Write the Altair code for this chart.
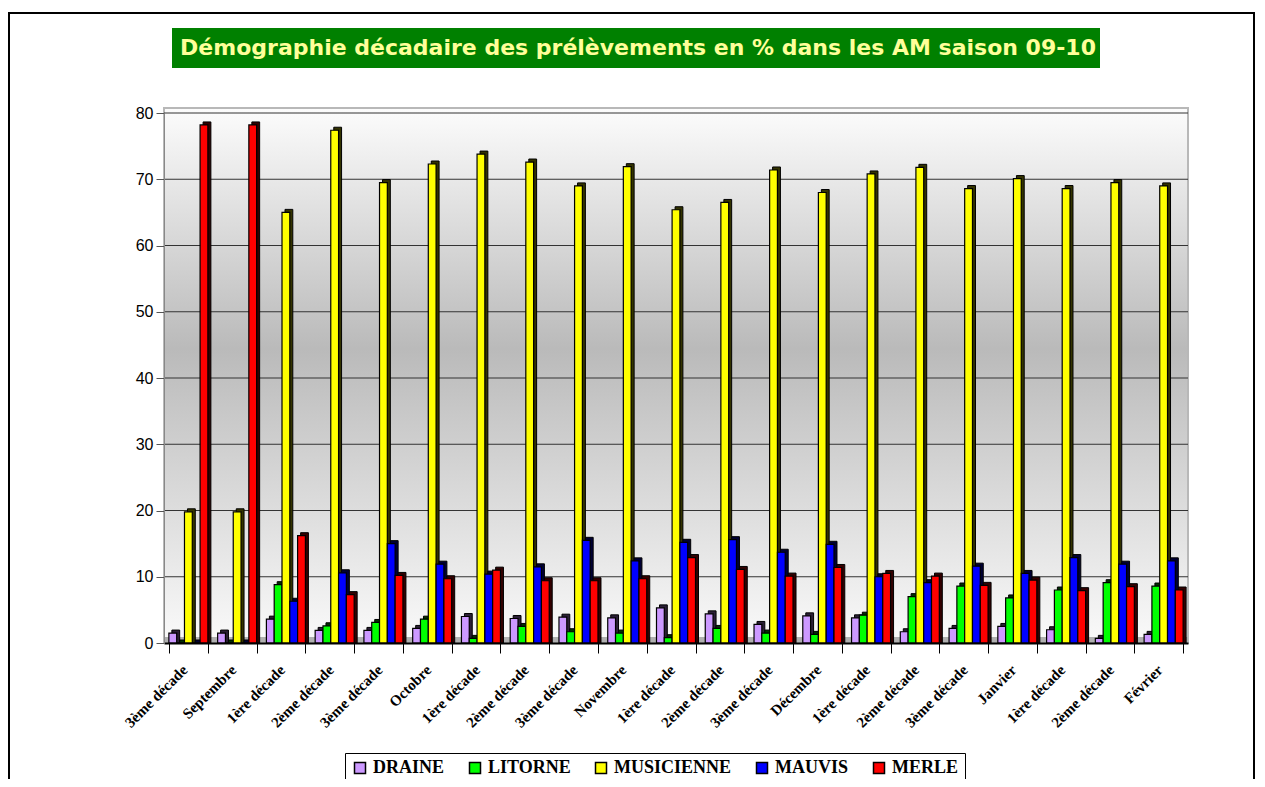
import altair as alt
import pandas as pd

periods = ["3ème décade", "Septembre", "1ère décade", "2ème décade", "3ème décade", "Octobre",
           "1ère décade", "2ème décade", "3ème décade", "Novembre", "1ère décade", "2ème décade",
           "3ème décade", "Décembre", "1ère décade", "2ème décade", "3ème décade", "Janvier",
           "1ère décade", "2ème décade", "Février"]
species = ["DRAINE", "LITORNE", "MUSICIENNE", "MAUVIS", "MERLE"]
colors = ["#cc99ff", "#00ff00", "#ffff00", "#0000ff", "#ff0000"]
shades = ["#2b1f36", "#003300", "#333300", "#000033", "#330000"]

draine = [1.5, 1.5, 3.6, 1.9, 1.9, 2.2, 4.0, 3.7, 3.9, 3.8, 5.3, 4.4, 2.8, 4.1, 3.8, 1.7, 2.2, 2.5, 2.0, 0.7, 1.3]
litorne = [0, 0, 8.8, 2.6, 3.1, 3.6, 0.7, 2.5, 1.7, 1.5, 0.8, 2.2, 1.5, 1.3, 4.2, 7.0, 8.6, 6.8, 8.0, 9.1, 8.6]
musicienne = [19.8, 19.8, 65.0, 77.4, 69.5, 72.3, 73.8, 72.6, 69.0, 71.9, 65.4, 66.5, 71.4, 68.0, 70.8, 71.8, 68.6, 70.1, 68.6, 69.5, 69.0]
mauvis = [0, 0, 6.3, 10.6, 15.0, 11.9, 10.4, 11.5, 15.5, 12.4, 15.2, 15.6, 13.7, 14.9, 10.0, 9.1, 11.6, 10.5, 12.9, 11.9, 12.4]
merle = [78.2, 78.2, 16.2, 7.3, 10.2, 9.7, 11.0, 9.4, 9.4, 9.7, 12.9, 11.1, 10.1, 11.4, 10.5, 10.1, 8.7, 9.5, 7.9, 8.5, 8.0]
yticks = [0, 10, 20, 30, 40, 50, 60, 70, 80]
title_text = "Démographie décadaire des prélèvements en % dans les AM saison 09-10"

series = [draine, litorne, musicienne, mauvis, merle]
rows = []
for i in range(len(periods)):
    for j, s in enumerate(species):
        rows.append({"idx": i, "species": s, "species2": s, "value": series[j][i], "shade": shades[j]})
df = pd.DataFrame(rows)

W, H = 1024, 530
PI, PO = 0.2, 0.1
step = W / (len(periods) - PI + 2 * PO)
bw = step * (1 - PI)
D = 3  # depth of the 3D side

label_expr = "[" + ",".join("'" + p + "'" for p in periods) + "][datum.value]"

x_enc = alt.X("idx:O", title=None,
              scale=alt.Scale(paddingInner=PI, paddingOuter=PO),
              axis=alt.Axis(labelExpr=label_expr, labelAngle=-45, labelFont="Liberation Serif",
                            labelFontWeight="bold", labelFontSize=15, labelColor="black",
                            labelAlign="right", labelBaseline="middle", labelOffset=-4,
                            tickBand="extent", tickSize=10, tickColor="black", domainColor="black",
                            domainWidth=2, labelPadding=14, zindex=1))
y_enc = alt.Y("value:Q", title=None, stack=None,
              scale=alt.Scale(domain=[0, 80], nice=False),
              axis=alt.Axis(values=yticks, grid=False, tickSize=8, tickColor="#555555",
                            labelFont="Liberation Sans", labelFontSize=16, labelColor="black",
                            domainColor="#888888", labelPadding=3, zindex=1))

grad = alt.Gradient(gradient="linear", x1=0, x2=0, y1=0, y2=1,
                    stops=[alt.GradientStop(color="#fcfcfc", offset=0),
                           alt.GradientStop(color="#bababa", offset=0.45),
                           alt.GradientStop(color="#fafafa", offset=1)])

one = alt.Data(values=[{}])

border = alt.Chart(one).mark_rect(fillOpacity=0, stroke="black", strokeWidth=2).encode(
    x=alt.value(-155), x2=alt.value(1090), y=alt.value(-100), y2=alt.value(900))
bg = alt.Chart(one).mark_rect(fill=grad, stroke="#b8b8b8", strokeWidth=2).encode(
    x=alt.value(0), x2=alt.value(W), y=alt.value(-5), y2=alt.value(H))
floor = alt.Chart(one).mark_rect(fill="#b0b0b0").encode(
    x=alt.value(0), x2=alt.value(W), y=alt.value(H - 6), y2=alt.value(H))
title_box = alt.Chart(one).mark_rect(fill="#008000").encode(
    x=alt.value(8), x2=alt.value(936), y=alt.value(-85), y2=alt.value(-45))
title = alt.Chart(one).mark_text(text=title_text, font="DejaVu Sans", fontWeight="bold",
                                 fontSize=22, color="#ffff99", align="center",
                                 baseline="middle").encode(x=alt.value(474), y=alt.value(-65))

grid = alt.Chart(pd.DataFrame({"value": yticks[1:]})).mark_rule(
    color="#333333", strokeWidth=1).encode(y=y_enc)

shadow = alt.Chart(df).mark_bar(yOffset=-D, y2Offset=-D, stroke="black", strokeWidth=1).encode(
    x=x_enc,
    xOffset=alt.XOffset("species2:N", sort=species,
                        scale=alt.Scale(paddingInner=0, paddingOuter=0, range=[D, bw + D])),
    y=y_enc, fill=alt.Fill("shade:N", scale=None))

bars = alt.Chart(df).mark_bar(stroke="black", strokeWidth=1.2).encode(
    x=x_enc,
    xOffset=alt.XOffset("species:N", sort=species,
                        scale=alt.Scale(paddingInner=0, paddingOuter=0, range=[0, bw])),
    y=y_enc,
    fill=alt.Fill("species:N", sort=species,
                  scale=alt.Scale(domain=species, range=colors),
                  legend=alt.Legend(orient="none", legendX=181, legendY=640,
                                    direction="horizontal", columns=5, title=None,
                                    symbolType="square", symbolSize=121,
                                    symbolStrokeColor="black", symbolStrokeWidth=1.5,
                                    labelFont="Liberation Serif", labelFontWeight="bold",
                                    labelFontSize=18, labelColor="black",
                                    strokeColor="black", fillColor="white", padding=6,
                                    columnPadding=21, labelOffset=4)))

chart = alt.layer(border, bg, grid, floor, title_box, title, shadow, bars).resolve_scale(
    xOffset="independent"
).properties(
    width=W, height=H,
    autosize=alt.AutoSizeParams(type="none"),
    padding={"left": 156, "top": 105, "right": 69, "bottom": 136},
    background="white",
).configure_view(stroke=None)

chart.save("out.html", embed_options={"renderer": "svg", "actions": False})
